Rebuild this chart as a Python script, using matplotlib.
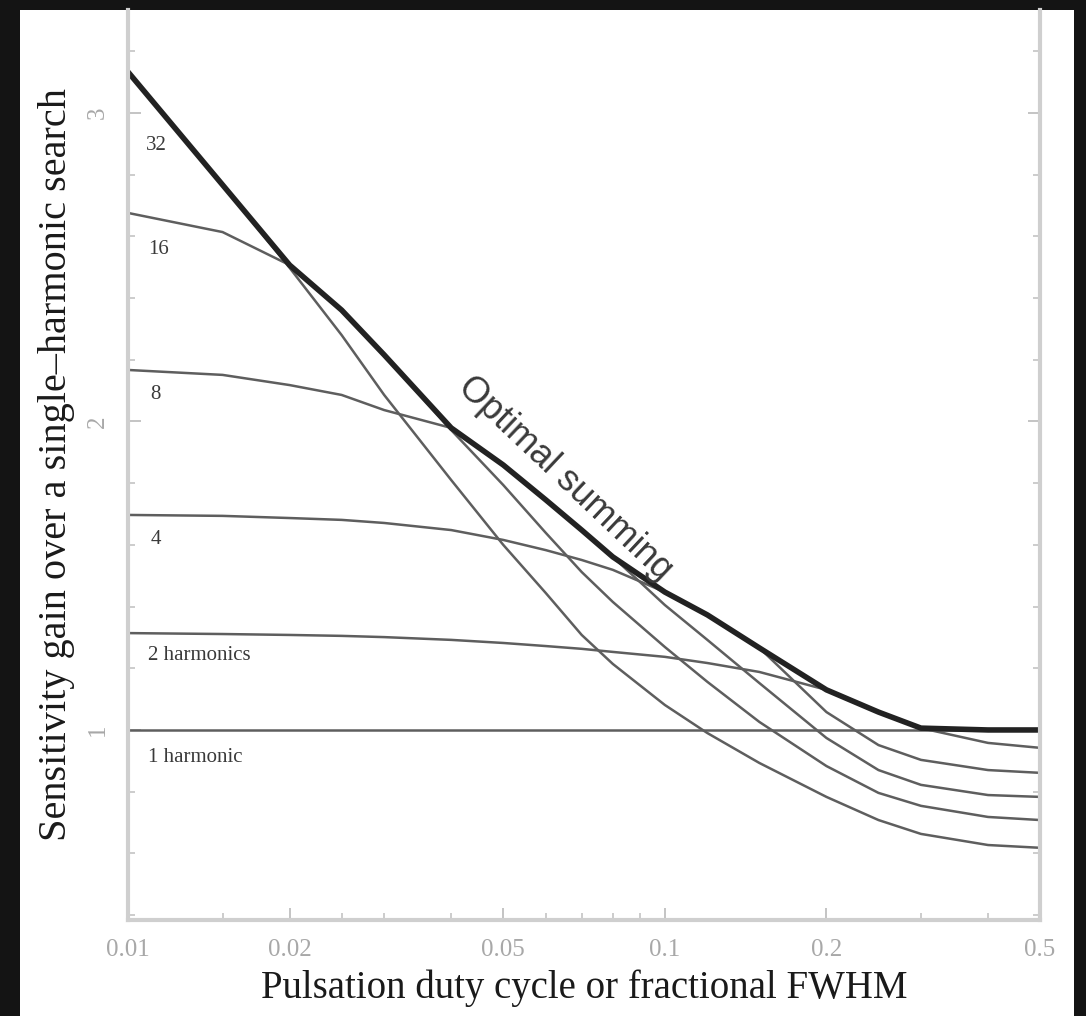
import numpy as np
import matplotlib
matplotlib.use("Agg")
import matplotlib.pyplot as plt
from matplotlib.patches import Rectangle
from matplotlib.ticker import FixedLocator, MultipleLocator, NullFormatter

# fractional pulse width (duty cycle)
duty = [0.01, 0.015, 0.02, 0.025, 0.03, 0.04, 0.05, 0.06, 0.07, 0.08,
        0.1, 0.12, 0.15, 0.2, 0.25, 0.3, 0.4, 0.5]

# sensitivity gain relative to a single-harmonic search, per number of harmonics summed
gain_1 = [1.00] * len(duty)
gain_2 = [1.314, 1.311, 1.308, 1.305, 1.301, 1.292, 1.282, 1.272, 1.263, 1.253,
          1.237, 1.217, 1.188, 1.130, 1.058, 1.006, 0.958, 0.942]
gain_4 = [1.697, 1.694, 1.687, 1.681, 1.671, 1.648, 1.616, 1.583, 1.551, 1.519,
          1.447, 1.373, 1.266, 1.058, 0.951, 0.903, 0.870, 0.861]
gain_8 = [2.167, 2.151, 2.118, 2.086, 2.037, 1.979, 1.859, 1.746, 1.648, 1.561,
          1.405, 1.292, 1.152, 0.974, 0.870, 0.822, 0.789, 0.783]
gain_16 = [2.676, 2.614, 2.507, 2.361, 2.216, 1.972, 1.794, 1.639, 1.512, 1.415,
           1.269, 1.156, 1.026, 0.883, 0.796, 0.754, 0.718, 0.708]
gain_32 = [3.133, 2.767, 2.498, 2.280, 2.086, 1.810, 1.600, 1.444, 1.308, 1.214,
           1.081, 0.990, 0.893, 0.783, 0.708, 0.663, 0.627, 0.618]

curves = [gain_1, gain_2, gain_4, gain_8, gain_16, gain_32]
curve_labels = ["1 harmonic", "2 harmonics", "4", "8", "16", "32"]
label_x = [0.0109, 0.0109, 0.0110, 0.0110, 0.0109, 0.0108]
label_y = [0.912, 1.240, 1.616, 2.086, 2.556, 2.896]

# best achievable gain: the envelope over all harmonic counts
optimal = np.max(np.array(curves), axis=0)

fig = plt.figure(figsize=(10.86, 10.16), dpi=100, facecolor="#141414")
fig.patches.append(Rectangle((20 / 1086, 0), 1054 / 1086, 1006 / 1016,
                             transform=fig.transFigure, facecolor="white",
                             edgecolor="none", zorder=-10))

ax = fig.add_axes([0.1179, 0.0945, 0.8398, 0.8957])
ax.set_facecolor("white")
ax.set_xscale("log")
ax.set_xlim(0.01, 0.5)
ax.set_ylim(0.384, 3.334)

for g in curves:
    ax.plot(duty, g, color="#5e5e5e", lw=1.8, solid_capstyle="round")
ax.plot(duty, optimal, color="#222222", lw=4, solid_capstyle="round",
        solid_joinstyle="round")

serif = ["Liberation Serif", "DejaVu Serif"]
for text, x, y in zip(curve_labels, label_x, label_y):
    ax.text(x, y, text, fontsize=15, family=serif, color="#3a3a3a",
            ha="left", va="center")

ax.text(0.0652, 1.815, "Optimal summing", fontsize=26, family="Liberation Sans",
        color="#3a3a3a", rotation=-43.3, ha="center", va="center",
        rotation_mode="anchor")

# axes frame
for side in ["left", "bottom", "right"]:
    ax.spines[side].set_color("#cfcfcf")
    ax.spines[side].set_linewidth(3)
ax.spines["top"].set_visible(False)

ax.xaxis.set_major_locator(FixedLocator([0.01, 0.02, 0.05, 0.1, 0.2, 0.5]))
ax.xaxis.set_minor_locator(FixedLocator([0.03, 0.04, 0.06, 0.07, 0.08, 0.09,
                                         0.3, 0.4, 0.015, 0.025]))
ax.xaxis.set_minor_formatter(NullFormatter())
ax.set_xticklabels(["0.01", "0.02", "0.05", "0.1", "0.2", "0.5"])
ax.yaxis.set_major_locator(FixedLocator([1, 2, 3]))
ax.yaxis.set_minor_locator(MultipleLocator(0.2))
ax.set_yticklabels(["1", "2", "3"], rotation=90, va="center")

ax.tick_params(which="both", direction="in", color="#c4c4c4", right=True)
ax.tick_params(which="major", length=9, width=1.4)
ax.tick_params(which="minor", length=5, width=1.2)
ax.tick_params(axis="x", labelsize=18, labelcolor="#a8a8a8", pad=14)
ax.tick_params(axis="y", labelsize=18, labelcolor="#a8a8a8", pad=14,
               labelright=False)
for lab in ax.get_xticklabels() + ax.get_yticklabels():
    lab.set_family(serif)

ax.set_xlabel("Pulsation duty cycle or fractional FWHM", fontsize=28,
              family=serif, color="#1a1a1a", labelpad=6)
ax.set_ylabel("Sensitivity gain over a single\u2013harmonic search",
              fontsize=29, family=serif, color="#1a1a1a", labelpad=8)

fig.savefig("out.png", dpi=100, facecolor=fig.get_facecolor())
